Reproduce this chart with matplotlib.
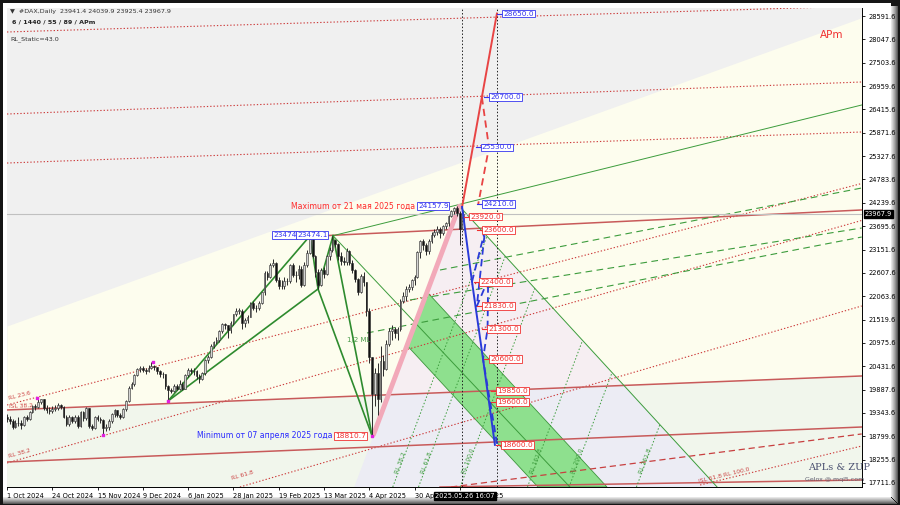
import numpy as np
import matplotlib.pyplot as plt
from matplotlib.patches import Polygon, Rectangle
import matplotlib.transforms as mtransforms

W, H = 900, 505

# ------------------------- data: daily DAX candles (1 Oct 2024 -> 26 May 2025) -------------------------
first_open = 19240
closes = [19210, 19160, 19020, 19120, 19100, 19070, 19250, 19210, 19370, 19510,
          19490, 19600, 19660, 19460, 19420, 19380, 19440, 19460, 19530, 19480,
          19260, 19080, 19250, 19150, 19260, 19040, 19360, 19220, 19450, 19030,
          19000, 19260, 19210, 19190, 18990, 19010, 19150, 19320, 19410, 19300,
          19260, 19430, 19630, 19930, 20020, 20230, 20360, 20390, 20350, 20330,
          20400, 20430, 20410, 20310, 20250, 20240, 19970, 19880, 19850, 19980,
          19910, 20020, 19910, 20220, 20340, 20330, 20320, 20210, 20130, 20270,
          20570, 20650, 20900, 20990, 21040, 21250, 21410, 21390, 21280, 21430,
          21640, 21730, 21730, 21430, 21500, 21590, 21900, 21790, 21800, 21900,
          22150, 22610, 22510, 22800, 22840, 22430, 22310, 22290, 22420, 22410,
          22790, 22550, 22550, 22700, 22330, 22800, 23080, 23400, 23010, 22620,
          22330, 22680, 22570, 22990, 23150, 23380, 23290, 23000, 22890, 22850,
          23110, 22840, 22680, 22460, 22160, 22540, 22390, 21720, 20640, 19790,
          20280, 19670, 20560, 20370, 20950, 21250, 21310, 21210, 21290, 21960,
          22060, 22240, 22270, 22430, 22500, 23090, 23340, 23250, 23120, 23350,
          23500, 23570, 23640, 23530, 23700, 23770, 23940, 24040, 24120, 24000, 23630, 23968]
highs = [19320, 19280, 19200, 19190, 19250, 19180, 19280, 19300, 19400, 19530,
         19560, 19690, 19680, 19670, 19520, 19480, 19500, 19540, 19580, 19560,
         19500, 19300, 19290, 19280, 19300, 19290, 19400, 19380, 19480, 19460,
         19090, 19280, 19300, 19260, 19200, 19080, 19200, 19340, 19430, 19420,
         19350, 19450, 19650, 19960, 20060, 20250, 20400, 20430, 20440, 20380,
         20450, 20530, 20470, 20420, 20340, 20300, 20260, 19990, 19920, 20020,
         20010, 20100, 20070, 20260, 20400, 20400, 20380, 20340, 20240, 20300,
         20600, 20700, 20940, 21030, 21120, 21280, 21450, 21450, 21400, 21480,
         21660, 21800, 21800, 21760, 21560, 21620, 21930, 21950, 21850, 21950,
         22170, 22640, 22660, 22830, 22940, 22860, 22500, 22440, 22500, 22480,
         22820, 22830, 22650, 22800, 22760, 22850, 23150, 23474, 23420, 23030,
         22700, 22720, 22750, 23020, 23200, 23474, 23400, 23300, 23100, 22980,
         23180, 23130, 22900, 22700, 22480, 22580, 22620, 22400, 21800, 20650,
         20400, 20500, 20900, 20700, 21050, 21330, 21400, 21350, 21350, 21990,
         22150, 22300, 22350, 22470, 22560, 23110, 23380, 23400, 23300, 23400,
         23560, 23620, 23700, 23680, 23730, 23800, 23960, 24080, 24140, 24158, 24050, 24040]
lows = [19130, 19090, 18960, 18990, 19040, 18980, 19040, 19150, 19180, 19340,
        19420, 19450, 19560, 19420, 19350, 19330, 19340, 19390, 19420, 19430,
        19230, 19050, 19040, 19100, 19100, 19000, 19020, 19160, 19180, 19000,
        18940, 18960, 19150, 19110, 18830, 18930, 18950, 19100, 19240, 19250,
        19210, 19230, 19400, 19600, 19890, 19980, 20200, 20300, 20300, 20260,
        20300, 20370, 20350, 20250, 20180, 20150, 19900, 19620, 19800, 19830,
        19880, 19880, 19870, 19900, 20170, 20250, 20230, 20130, 20050, 20100,
        20230, 20500, 20620, 20850, 20940, 21000, 21200, 21300, 21080, 21200,
        21400, 21600, 21650, 21300, 21350, 21450, 21570, 21750, 21700, 21740,
        21880, 22100, 22450, 22480, 22750, 22400, 22220, 22230, 22240, 22320,
        22380, 22500, 22400, 22460, 22280, 22300, 22750, 23050, 22950, 22520,
        22232, 22300, 22480, 22550, 22900, 23100, 23200, 22900, 22800, 22780,
        22800, 22800, 22600, 22400, 22100, 22130, 22300, 21600, 20500, 18810,
        19500, 19300, 19600, 20200, 20350, 20900, 21050, 21100, 21050, 21250,
        21900, 21950, 22150, 22200, 22330, 22480, 22950, 23150, 23030, 23050,
        23300, 23450, 23480, 23430, 23480, 23640, 23700, 23900, 23990, 23930, 23250, 23600]

date_labels = ["1 Oct 2024", "24 Oct 2024", "15 Nov 2024", "9 Dec 2024", "6 Jan 2025", "28 Jan 2025",
               "19 Feb 2025", "13 Mar 2025", "4 Apr 2025", "30 Apr 2025", "22 May 2025"]
date_bars = [0, 16, 32, 48, 64, 80, 96, 112, 128, 144, 160]
price_ticks = [17711.6, 18255.6, 18799.6, 19343.6, 19887.6, 20431.6, 20975.6, 21519.6, 22063.6, 22607.6,
               23151.6, 23695.6, 24239.6, 24783.6, 25327.6, 25871.6, 26415.6, 26959.6, 27503.6, 28047.6, 28591.6]
last_price = 23967.9

# ZUP pattern points X A B C D (bar, price)
pat_bar = [56.9, 107.1, 109.9, 115.2, 129.0]
pat_price = [19622, 23474, 22232, 23474, 18810]
fractal_bar = [10.6, 33.9, 51.6, 56.9, 129.0]
fractal_price = [19692, 18830, 20530, 19622, 18810]

# pitchfork / fib lines as (bar, price) anchor pairs
red_dotted = [((0, 28220), (302, 28825)), ((0, 26309), (302, 27055)), ((0, 25167), (302, 25890)),
              ((0, 19529), (302, 24690)), ((0, 18178), (302, 23829)), ((82.3, 17618), (302, 21836)),
              ((244.9, 17665), (302, 18573))]
red_solid = [((0, 19413), (302, 20205)), ((0, 18201), (302, 19016)),
             ((112.4, 23474), (302, 24073)), ((153, 17618), (302, 17782))]
red_dashed = [((156.9, 17618), (302, 18854))]
grey_edge = ((0, 21370), (94, 23606))
green_solid = [((115.2, 23474), (302, 26519)), ((115.2, 23474), (198.9, 17618)),
               ((160.1, 24143), (250.9, 17618))]
green_dashed = [((127.2, 21207), (302, 23443)), ((142.4, 21976), (302, 23653)), ((153, 22674), (302, 24585))]
pink_handle = ((129.5, 18840), (159.8, 24160))
fork_zone = [(122.7, 17618), (159.8, 24160), (250.9, 17618)]
green_band = [(148.1, 22186), (212.0, 17618), (187.6, 17618), (141.2, 20927)]
rl_bottom_bars = [136.3, 145.4, 160.1, 183.9, 198.6, 222.4]
rl_names = ["RL 38.2", "RL 61.8", "RL 100.0", "RL 161.8", "RL 200.0", "RL 261.8"]

# projections
up_path_bar = [160.8, 173.1]
up_path_price = [24143, 28650]
up_dash_bar = [167.8, 170.3, 166.5]
up_dash_price = [26700, 25530, 24210]
down_path_bar = [160.8, 164.3, 168.2, 172.4]
down_path_price = [24143, 22400, 20600, 18600]
down_dash_bar = [164.3, 168.9, 166.0, 170.0, 169.8, 168.2, 173.2]
down_dash_price = [22400, 23600, 21830, 22450, 21300, 20600, 18600]
blue_targets = [28650, 26700, 25530, 24210]
blue_target_bars = [175.3, 170.7, 167.8, 168.2]
red_targets = [23920, 23600, 22400, 21830, 21300, 20600, 19850, 19600, 18600]
red_target_bars = [163.6, 168.2, 167.1, 168.2, 170.0, 170.7, 173.1, 173.1, 174.9]

YMIN, YMAX = 17618, 28779
XMIN, XMAX = 0, 302.1


def line_at(p0, p1, x):
    (x0, y0), (x1, y1) = p0, p1
    return y0 + (y1 - y0) * (np.asarray(x, dtype=float) - x0) / (x1 - x0)


def meet(p0, p1, q0, q1):
    a = (p1[1] - p0[1]) / (p1[0] - p0[0])
    b = (q1[1] - q0[1]) / (q1[0] - q0[0])
    x = (q0[1] - p0[1] + a * p0[0] - b * q0[0]) / (a - b)
    return x, p0[1] + a * (x - p0[0])


# ------------------------- figure & frame -------------------------
fig = plt.figure(figsize=(W / 100, H / 100), dpi=100)
fig.patch.set_facecolor('#151515')
fig.add_artist(Rectangle((3 / W, 1 - 497 / H), 888 / W, 494 / H, transform=fig.transFigure,
                         fc='white', ec='none', zorder=-10))
bevel = ['#e6e6e6', '#d2d2d2', '#bdbdbd', '#a8a8a8', '#909090', '#767676', '#5a5a5a']
for i, c in enumerate(bevel):
    fig.add_artist(Rectangle(((891 + i) / W, 1 - (497 + i) / H), 1 / W, (494 + i - 3) / H,
                             transform=fig.transFigure, fc=c, ec='none', zorder=-9))
    fig.add_artist(Rectangle((3 / W, 1 - (498 + i) / H), (888 + i) / W, 1 / H,
                             transform=fig.transFigure, fc=c, ec='none', zorder=-9))

ax = fig.add_axes([7 / W, 1 - 487 / H, 855 / W, 479 / H])
ax.set_xlim(XMIN, XMAX)
ax.set_ylim(YMIN, YMAX)
ax.set_facecolor('#f0f0f0')

# ------------------------- background zones -------------------------
xs = np.linspace(XMIN, XMAX, 600)
r1 = line_at(*red_solid[0], xs)
ax.fill_between(xs, r1, line_at(*grey_edge, xs), color='#fdfdee', lw=0, zorder=0)
ax.fill_between(xs, YMIN, r1, color='#f1f6ec', lw=0, zorder=0)
zone = Polygon(fork_zone, closed=True, fc='none', ec='none', transform=ax.transData)
ax.add_patch(zone)
c1 = ax.fill_between(xs, r1, YMAX, color='#f6eef2', lw=0, zorder=0.2)
c2 = ax.fill_between(xs, YMIN, r1, color='#ececf4', lw=0, zorder=0.2)
c1.set_clip_path(zone)
c2.set_clip_path(zone)
ax.add_patch(Polygon(green_band, closed=True, fc='#8ee08e', ec='#3c963c', lw=0.6, zorder=0.4))

# ------------------------- lines -------------------------
def draw(pair, **kw):
    (x0, y0), (x1, y1) = pair
    ax.plot([x0, x1], [y0, y1], **kw)

for p in red_dotted:
    draw(p, color='#cc3a3a', lw=0.8, ls=(0, (1.2, 1.8)), zorder=1)
for p in red_solid:
    draw(p, color='#c85a5a', lw=1.1, zorder=1)
for p in red_dashed:
    draw(p, color='#c84040', lw=0.9, ls=(0, (5, 3)), zorder=1)
for p in green_solid:
    draw(p, color='#3c9c3c', lw=0.7, zorder=1)
for p in green_dashed:
    draw(p, color='#3c9c3c', lw=0.8, ls=(0, (6, 4)), zorder=1)

tine = green_solid[2]
slope_h = (pink_handle[1][1] - pink_handle[0][1]) / (pink_handle[1][0] - pink_handle[0][0])
rl_ends = []
for b in rl_bottom_bars:
    p0 = (b, YMIN)
    p1 = (b + 10, YMIN + 10 * slope_h)
    xe, ye = meet(p0, p1, *tine)
    rl_ends.append((xe, ye))
    ax.plot([b, xe], [YMIN, ye], color='#3c9c3c', lw=0.7, ls=(0, (1.5, 2)), zorder=1)

ax.plot(*zip(*pink_handle), color='#f2a9b9', lw=3.5, solid_capstyle='round', zorder=1.5)

for t in [160.8, 173.1]:
    ax.axvline(t, color='#202020', lw=0.7, ls=(0, (1.5, 2)), zorder=1.6)
ax.axhline(last_price, color='#c0c0c0', lw=0.8, zorder=1.6)

# ZUP pattern
for i, j in [(0, 1), (0, 2), (1, 2), (2, 3), (2, 4), (3, 4)]:
    ax.plot([pat_bar[i], pat_bar[j]], [pat_price[i], pat_price[j]], color='#2e8b2e', lw=1.2, zorder=2.5)

# ------------------------- candles -------------------------
opens = [first_open] + closes[:-1]
bars = np.arange(len(closes))
ax.vlines(bars, lows, highs, color='#2a2a2a', lw=0.7, zorder=3)
for i in bars:
    o, c = opens[i], closes[i]
    up = c >= o
    ax.bar(i, max(abs(c - o), 8), bottom=min(o, c), width=0.62,
           color='#d4d4d4' if up else '#111111', edgecolor='#2a2a2a', lw=0.4, zorder=3.2)
ax.scatter(fractal_bar, fractal_price, marker='s', s=3, color='#e020e0', zorder=3.5)

# ------------------------- projections -------------------------
ax.plot(up_path_bar, up_path_price, color='#e84444', lw=1.4, zorder=4)
ax.plot(up_dash_bar, up_dash_price, color='#e84444', lw=1.3, ls=(0, (4, 2.5)), zorder=4)
ax.plot(down_path_bar, down_path_price, color='#2a3ad8', lw=1.4, zorder=4)
ax.plot(down_dash_bar, down_dash_price, color='#2a3ad8', lw=1.3, ls=(0, (4, 2.5)), zorder=4)


def box(x, y, s, col, ha='left'):
    ax.text(x, y, s, color=col, fontsize=5.3, ha=ha, va='center', zorder=6,
            bbox=dict(boxstyle='square,pad=0.12', fc='white', ec=col, lw=0.6))


for v, b in zip(blue_targets, blue_target_bars):
    box(b, v, f"{v:.1f}", '#3535f0')
    ax.plot([b - 2.2, b], [v, v], color='#3535f0', lw=0.8, zorder=5)
for v, b in zip(red_targets, red_target_bars):
    box(b, v, f"{v:.1f}", '#f03030')
    ax.plot([b - 2.2, b], [v, v], color='#f03030', lw=0.8, zorder=5)

box(94.0, 23490, "23474", '#3535f0')
box(102.5, 23490, "23474.1", '#3535f0')
box(145.2, 24158, "24157.9", '#3535f0')
box(115.9, 18810, "18810.7", '#f03030')
ax.text(144.2, 24158, "Maximum от 21 мая 2025 года", color='#ff2a2a', fontsize=5.6,
        ha='right', va='center', zorder=6)
ax.text(115.0, 18810, "Minimum от 07 апреля 2025 года", color='#2a2aff', fontsize=5.6,
        ha='right', va='center', zorder=6)
ax.text(120.1, 21043, "1/2 ML", color='#4a9a4a', fontsize=5, ha='left', va='center', zorder=6)


def angle_of(p0, p1):
    a = ax.transData.transform([p0, p1])
    return np.degrees(np.arctan2(a[1][1] - a[0][1], a[1][0] - a[0][0]))


fig.canvas.draw()
for (b, name), (xe, ye) in zip(zip(rl_bottom_bars, rl_names), rl_ends):
    ang = angle_of((b, YMIN), (xe, ye))
    ax.text(b + 2.2, YMIN + 300, name, color='#3c9c3c', fontsize=4.3, rotation=ang,
            rotation_mode='anchor', ha='left', va='bottom', zorder=6)
ang = angle_of(*red_dotted[3])
ax.text(0.8, 19650, "RL 23.6", color='#cc4444', fontsize=4.3, rotation=ang, rotation_mode='anchor', zorder=6)
ax.text(0.8, 19450, "ISL 38.2", color='#cc4444', fontsize=4.3, rotation=2, rotation_mode='anchor', zorder=6)
ax.text(0.8, 18300, "RL 38.2", color='#cc4444', fontsize=4.3, rotation=angle_of(*red_dotted[4]),
        rotation_mode='anchor', zorder=6)
ax.text(79.5, 17780, "RL 61.8", color='#cc4444', fontsize=4.3, rotation=angle_of(*red_dotted[5]),
        rotation_mode='anchor', zorder=6)
ax.text(244.5, 17720, "ISL 61.8 RL 100.0", color='#cc4444', fontsize=4.3,
        rotation=angle_of(*red_dotted[6]), rotation_mode='anchor', zorder=6)

# ------------------------- axes, ticks -------------------------
ax.yaxis.tick_right()
ax.set_yticks(price_ticks)
ax.set_yticklabels([f"{v:.1f}" for v in price_ticks])
ax.tick_params(axis='y', labelsize=4.8, length=2.5, width=0.6, pad=2, direction='out')
ax.set_xticks(date_bars)
ax.set_xticklabels(date_labels, ha='left')
ax.tick_params(axis='x', labelsize=4.8, length=2.5, width=0.6, pad=1.5, direction='out')
for s in ['left', 'top']:
    ax.spines[s].set_visible(False)
for s in ['right', 'bottom']:
    ax.spines[s].set_color('black')
    ax.spines[s].set_linewidth(0.7)

price_tr = mtransforms.blended_transform_factory(ax.transAxes, ax.transData)
ax.text(1.003, last_price, f"{last_price:.1f}", transform=price_tr, color='white', fontsize=4.8,
        va='center', ha='left', clip_on=False, zorder=10,
        bbox=dict(boxstyle='square,pad=0.15', fc='black', ec='black'))
time_tr = mtransforms.blended_transform_factory(ax.transData, ax.transAxes)
ax.text(161.8, -0.012, "2025.05.26 16:07", transform=time_tr, color='white', fontsize=4.8,
        va='top', ha='center', clip_on=False, zorder=10,
        bbox=dict(boxstyle='square,pad=0.15', fc='black', ec='black'))

# ------------------------- header & signature -------------------------
fig.text(10 / W, 1 - 12 / H, "▼  #DAX,Daily  23941.4 24039.9 23925.4 23967.9", fontsize=4.6,
         color='#333333', va='center')
fig.text(12 / W, 1 - 22 / H, "6 / 1440 / 55 / 89 / APm", fontsize=4.6, color='#222222', va='center',
         fontweight='bold')
fig.text(10 / W, 1 - 39 / H, "RL_Static=43.0", fontsize=4.6, color='#333333', va='center')
fig.text(820 / W, 1 - 35 / H, "APm", fontsize=7.5, color='#f03030', va='center')
fig.text(808 / W, 1 - 468 / H, "APLs & ZUP", fontsize=7, color='#4a5070', va='center', family='DejaVu Serif')
fig.text(805 / W, 1 - 479 / H, "Gelox @ mql5.com", fontsize=4.5, color='#606070', va='center')

fig.savefig('out.png', dpi=100, facecolor=fig.get_facecolor())
